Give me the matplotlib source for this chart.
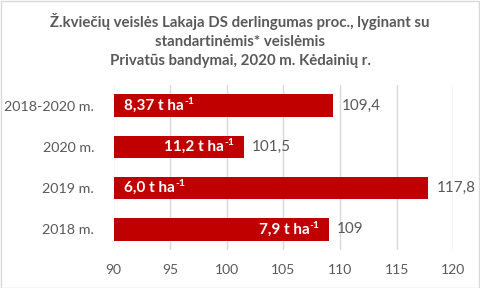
import matplotlib
matplotlib.use("Agg")
import matplotlib.pyplot as plt
from matplotlib.patches import Rectangle

plt.rcParams['font.family'] = ['Lato', 'DejaVu Sans']

categories = ["2018 m.", "2019 m.", "2020 m.", "2018-2020 m."]
values = [109.0, 117.8, 101.5, 109.4]
value_labels = ["109", "117,8", "101,5", "109,4"]
yield_labels = ["7,9", "6,0", "11,2", "8,37"]
yield_align = ["right", "left", "right", "left"]
xticks = [90, 95, 100, 105, 110, 115, 120]

title = ("Ž.kviečių veislės Lakaja DS derlingumas proc., lyginant su\n"
         "standartinėmis* veislėmis\n"
         "Privatūs bandymai, 2020 m. Kėdainių r.")

W, H = 480, 288
fig = plt.figure(figsize=(W / 100, H / 100), dpi=100)
fig.patch.set_facecolor('white')
fig.add_artist(Rectangle((0.5 / W, 0.5 / H), 1 - 1.5 / W, 1 - 1.5 / H,
                         transform=fig.transFigure, fill=False,
                         edgecolor='#d9d9d9', linewidth=1))

ax = fig.add_axes([113.5 / W, 1 - 250 / H, (453.3 - 113.5) / W, (250 - 85) / H])
gray = '#595959'
red = '#c00000'

y = list(range(len(categories)))
ax.barh(y, [v - 90 for v in values], left=90, height=0.55, color=red, zorder=3)
ax.set_xlim(90, 120)
ax.set_ylim(-0.5, len(categories) - 0.5)
ax.set_xticks(xticks)
ax.set_xticklabels([str(t) for t in xticks], color=gray, fontsize=10)
ax.set_yticks(y)
ax.set_yticklabels(categories, color=gray, fontsize=10.3)
ax.tick_params(axis='both', length=0)
ax.tick_params(axis='y', pad=14)
ax.tick_params(axis='x', pad=10)
ax.grid(axis='x', color='#d9d9d9', linewidth=1, zorder=0)
for s in ax.spines.values():
    s.set_visible(False)

fig.canvas.draw()
for i, v in enumerate(values):
    ax.annotate(value_labels[i], (v, i), xytext=(6, 0), textcoords='offset points',
                va='center', ha='left', color=gray, fontsize=11, annotation_clip=False)
    main = yield_labels[i] + " t ha"
    sup = "-1"
    if yield_align[i] == 'left':
        t = ax.annotate(main, (90, i), xytext=(7.5, 0), textcoords='offset points',
                        va='center', ha='left', color='white', fontsize=11,
                        fontweight='bold')
        bb = t.get_window_extent(fig.canvas.get_renderer())
        x_end = ax.transData.inverted().transform((bb.x1, 0))[0]
        ax.annotate(sup, (x_end, i), xytext=(0.3, 3), textcoords='offset points',
                    va='center', ha='left', color='white', fontsize=7.5,
                    fontweight='bold')
    else:
        s = ax.annotate(sup, (v, i), xytext=(-6.5, 3), textcoords='offset points',
                        va='center', ha='right', color='white', fontsize=7.5,
                        fontweight='bold')
        bb = s.get_window_extent(fig.canvas.get_renderer())
        x_start = ax.transData.inverted().transform((bb.x0, 0))[0]
        ax.annotate(main, (x_start, i), xytext=(-0.3, 0), textcoords='offset points',
                    va='center', ha='right', color='white', fontsize=11,
                    fontweight='bold')

fig.text(0.5, 1 - 40.7 / H, title, ha='center', va='center', color=gray,
         fontsize=10.8, fontweight='bold', linespacing=1.45)

fig.savefig("out.png", dpi=100)
